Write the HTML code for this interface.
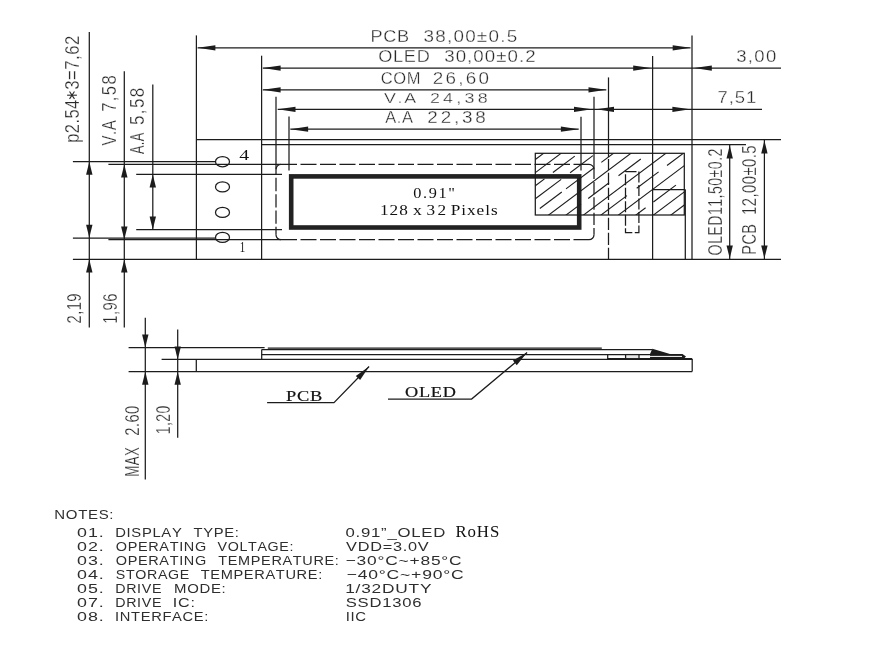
<!DOCTYPE html>
<html><head><meta charset="utf-8"><title>0.91 OLED drawing</title>
<style>html,body{margin:0;padding:0;background:#fff;width:872px;height:650px;overflow:hidden}svg{display:block;will-change:transform}</style>
</head><body>
<svg width="872" height="650" viewBox="0 0 872 650"><line x1="89.3" y1="32" x2="89.3" y2="327.6" stroke="#1c1c1c" stroke-width="1.25" />
<line x1="124.3" y1="71.2" x2="124.3" y2="327.6" stroke="#1c1c1c" stroke-width="1.25" />
<line x1="152.8" y1="84.6" x2="152.8" y2="229.7" stroke="#1c1c1c" stroke-width="1.25" />
<line x1="196.4" y1="35.4" x2="196.4" y2="259.4" stroke="#1c1c1c" stroke-width="1.25" />
<line x1="261.6" y1="55.7" x2="261.6" y2="259.4" stroke="#1c1c1c" stroke-width="1.25" />
<line x1="276.0" y1="96.8" x2="276.0" y2="169.4" stroke="#1c1c1c" stroke-width="1.25" />
<line x1="289.0" y1="116.6" x2="289.0" y2="170.5" stroke="#1c1c1c" stroke-width="1.25" />
<line x1="581.0" y1="116.8" x2="581.0" y2="170.5" stroke="#1c1c1c" stroke-width="1.25" />
<line x1="594.0" y1="96.8" x2="594.0" y2="169.4" stroke="#1c1c1c" stroke-width="1.25" />
<line x1="608.5" y1="77.4" x2="608.5" y2="157.0" stroke="#1c1c1c" stroke-width="1.25" />
<line x1="608.5" y1="159.0" x2="608.5" y2="259.4" stroke="#1c1c1c" stroke-width="1.25" stroke-dasharray="12.3 2.7" stroke-dashoffset="1.3"/>
<line x1="652.6" y1="56.0" x2="652.6" y2="259.4" stroke="#1c1c1c" stroke-width="1.25" />
<line x1="692.0" y1="35.5" x2="692.0" y2="259.4" stroke="#1c1c1c" stroke-width="1.25" />
<line x1="197.6" y1="47.8" x2="690.5" y2="47.8" stroke="#1c1c1c" stroke-width="1.25" />
<line x1="262.8" y1="68.1" x2="781.0" y2="68.1" stroke="#1c1c1c" stroke-width="1.25" />
<line x1="262.8" y1="89.8" x2="606.3" y2="89.8" stroke="#1c1c1c" stroke-width="1.25" />
<line x1="277.7" y1="109.3" x2="762.0" y2="109.3" stroke="#1c1c1c" stroke-width="1.25" />
<line x1="290.3" y1="129.2" x2="578.7" y2="129.2" stroke="#1c1c1c" stroke-width="1.25" />
<polygon points="197.60,47.80 215.40,45.20 215.40,50.40" fill="#1c1c1c"/>
<polygon points="690.50,47.80 672.70,45.20 672.70,50.40" fill="#1c1c1c"/>
<polygon points="262.80,68.10 280.60,65.50 280.60,70.70" fill="#1c1c1c"/>
<polygon points="651.00,68.10 633.20,65.50 633.20,70.70" fill="#1c1c1c"/>
<polygon points="694.00,68.10 711.80,65.50 711.80,70.70" fill="#1c1c1c"/>
<polygon points="262.80,89.80 280.60,87.20 280.60,92.40" fill="#1c1c1c"/>
<polygon points="606.30,89.80 588.50,87.20 588.50,92.40" fill="#1c1c1c"/>
<polygon points="277.70,109.30 295.50,106.70 295.50,111.90" fill="#1c1c1c"/>
<polygon points="591.80,109.30 574.00,106.70 574.00,111.90" fill="#1c1c1c"/>
<polygon points="596.20,109.30 614.00,106.70 614.00,111.90" fill="#1c1c1c"/>
<polygon points="690.20,109.30 672.40,106.70 672.40,111.90" fill="#1c1c1c"/>
<polygon points="290.30,129.20 308.10,126.60 308.10,131.80" fill="#1c1c1c"/>
<polygon points="578.70,129.20 560.90,126.60 560.90,131.80" fill="#1c1c1c"/>
<line x1="196.4" y1="139.6" x2="781.0" y2="139.6" stroke="#1c1c1c" stroke-width="1.25" />
<line x1="261.6" y1="144.5" x2="746.0" y2="144.5" stroke="#1c1c1c" stroke-width="1.25" />
<line x1="72.9" y1="259.4" x2="781.0" y2="259.4" stroke="#1c1c1c" stroke-width="1.25" />
<line x1="72.9" y1="161.5" x2="215.3" y2="161.5" stroke="#1c1c1c" stroke-width="1.25" />
<line x1="108.4" y1="164.4" x2="281.0" y2="164.4" stroke="#1c1c1c" stroke-width="1.25" />
<line x1="136.2" y1="174.3" x2="282.0" y2="174.3" stroke="#1c1c1c" stroke-width="1.25" />
<line x1="136.2" y1="229.7" x2="282.0" y2="229.7" stroke="#1c1c1c" stroke-width="1.25" />
<line x1="72.9" y1="238.0" x2="215.3" y2="238.0" stroke="#1c1c1c" stroke-width="1.25" />
<line x1="108.4" y1="239.7" x2="281.0" y2="239.7" stroke="#1c1c1c" stroke-width="1.25" />
<polygon points="89.30,161.80 86.10,174.80 92.50,174.80" fill="#1c1c1c"/>
<polygon points="89.30,237.80 86.10,224.80 92.50,224.80" fill="#1c1c1c"/>
<polygon points="89.30,259.60 86.10,272.60 92.50,272.60" fill="#1c1c1c"/>
<polygon points="124.30,164.40 121.10,177.40 127.50,177.40" fill="#1c1c1c"/>
<polygon points="124.30,239.50 121.10,226.50 127.50,226.50" fill="#1c1c1c"/>
<polygon points="124.30,259.60 121.10,272.60 127.50,272.60" fill="#1c1c1c"/>
<polygon points="152.80,174.50 149.60,187.50 156.00,187.50" fill="#1c1c1c"/>
<polygon points="152.80,229.50 149.60,216.50 156.00,216.50" fill="#1c1c1c"/>
<line x1="729.7" y1="144.5" x2="729.7" y2="259.4" stroke="#1c1c1c" stroke-width="1.25" />
<line x1="764.4" y1="139.6" x2="764.4" y2="259.4" stroke="#1c1c1c" stroke-width="1.25" />
<polygon points="729.70,145.50 726.50,158.50 732.90,158.50" fill="#1c1c1c"/>
<polygon points="729.70,258.40 726.50,245.40 732.90,245.40" fill="#1c1c1c"/>
<polygon points="764.40,140.60 761.20,153.60 767.60,153.60" fill="#1c1c1c"/>
<polygon points="764.40,258.40 761.20,245.40 767.60,245.40" fill="#1c1c1c"/>
<ellipse cx="222.5" cy="161.7" rx="7" ry="5.1" fill="none" stroke="#1c1c1c" stroke-width="1.25"/>
<ellipse cx="222.5" cy="186.9" rx="7" ry="5.1" fill="none" stroke="#1c1c1c" stroke-width="1.25"/>
<ellipse cx="222.5" cy="212.4" rx="7" ry="5.1" fill="none" stroke="#1c1c1c" stroke-width="1.25"/>
<ellipse cx="222.5" cy="237.4" rx="7" ry="5.1" fill="none" stroke="#1c1c1c" stroke-width="1.25"/>
<line x1="281.0" y1="164.4" x2="589.0" y2="164.4" stroke="#1c1c1c" stroke-width="1.25" stroke-dasharray="16 3.5"/>
<line x1="281.0" y1="239.7" x2="589.0" y2="239.7" stroke="#1c1c1c" stroke-width="1.25" stroke-dasharray="16 3.5"/>
<line x1="276.0" y1="169.4" x2="276.0" y2="234.7" stroke="#1c1c1c" stroke-width="1.25" stroke-dasharray="13.35 3" stroke-dashoffset="7.95"/>
<line x1="594.0" y1="169.4" x2="594.0" y2="234.7" stroke="#1c1c1c" stroke-width="1.25" stroke-dasharray="12.4 3" stroke-dashoffset="2.9"/>
<path d="M276,169.4 A5,5 0 0 1 281,164.4 M589,164.4 A5,5 0 0 1 594,169.4 M594,234.7 A5,5 0 0 1 589,239.7 M281,239.7 A5,5 0 0 1 276,234.7" fill="none" stroke="#1c1c1c" stroke-width="1.25"/>
<rect x="291.2" y="176.4" width="288.0" height="51.1" fill="none" stroke="#222222" stroke-width="4.6"/>
<defs><clipPath id="hc"><rect x="535.3" y="153.3" width="149.0" height="61.7"/></clipPath></defs>
<g clip-path="url(#hc)"><line x1="520.00" y1="171.00" x2="700.00" y2="36.00" stroke="#1c1c1c" stroke-width="1.1"/><line x1="520.00" y1="184.10" x2="700.00" y2="49.10" stroke="#1c1c1c" stroke-width="1.1"/><line x1="520.00" y1="197.20" x2="544.50" y2="178.83" stroke="#1c1c1c" stroke-width="1.1"/><line x1="552.90" y1="172.53" x2="574.80" y2="156.10" stroke="#1c1c1c" stroke-width="1.1"/><line x1="520.00" y1="210.30" x2="561.20" y2="179.40" stroke="#1c1c1c" stroke-width="1.1"/><line x1="570.10" y1="172.72" x2="592.90" y2="155.62" stroke="#1c1c1c" stroke-width="1.1"/><line x1="539.80" y1="208.55" x2="561.80" y2="192.05" stroke="#1c1c1c" stroke-width="1.1"/><line x1="566.00" y1="188.90" x2="593.50" y2="168.27" stroke="#1c1c1c" stroke-width="1.1"/><line x1="601.30" y1="162.43" x2="700.00" y2="88.40" stroke="#1c1c1c" stroke-width="1.1"/><line x1="520.00" y1="236.50" x2="700.00" y2="101.50" stroke="#1c1c1c" stroke-width="1.1"/><line x1="520.00" y1="249.60" x2="581.00" y2="203.85" stroke="#1c1c1c" stroke-width="1.1"/><line x1="588.20" y1="198.45" x2="609.10" y2="182.77" stroke="#1c1c1c" stroke-width="1.1"/><line x1="618.50" y1="175.73" x2="640.80" y2="159.00" stroke="#1c1c1c" stroke-width="1.1"/><line x1="520.00" y1="262.70" x2="700.00" y2="127.70" stroke="#1c1c1c" stroke-width="1.1"/><line x1="520.00" y1="275.80" x2="626.90" y2="195.62" stroke="#1c1c1c" stroke-width="1.1"/><line x1="636.70" y1="188.27" x2="658.60" y2="171.85" stroke="#1c1c1c" stroke-width="1.1"/><line x1="667.00" y1="165.55" x2="700.00" y2="140.80" stroke="#1c1c1c" stroke-width="1.1"/><line x1="520.00" y1="288.90" x2="700.00" y2="153.90" stroke="#1c1c1c" stroke-width="1.1"/><line x1="520.00" y1="302.00" x2="645.60" y2="207.80" stroke="#1c1c1c" stroke-width="1.1"/><line x1="653.40" y1="201.95" x2="675.90" y2="185.08" stroke="#1c1c1c" stroke-width="1.1"/><line x1="520.00" y1="315.10" x2="700.00" y2="180.10" stroke="#1c1c1c" stroke-width="1.1"/><line x1="520.00" y1="328.20" x2="700.00" y2="193.20" stroke="#1c1c1c" stroke-width="1.1"/></g>
<rect x="535.3" y="153.3" width="149.0" height="61.7" fill="none" stroke="#1c1c1c" stroke-width="1.25"/>
<line x1="652.6" y1="189.6" x2="685.3" y2="189.6" stroke="#1c1c1c" stroke-width="1.25" />
<line x1="685.3" y1="189.6" x2="685.3" y2="259.4" stroke="#1c1c1c" stroke-width="1.25" />
<rect x="625.5" y="171.5" width="13.4" height="61.0" fill="none" stroke="#1c1c1c" stroke-width="1.25" stroke-dasharray="11 2.5"/>
<line x1="145.3" y1="317.8" x2="145.3" y2="479.6" stroke="#1c1c1c" stroke-width="1.25" />
<line x1="177.7" y1="329.6" x2="177.7" y2="437.7" stroke="#1c1c1c" stroke-width="1.25" />
<polygon points="145.30,347.60 142.10,334.60 148.50,334.60" fill="#1c1c1c"/>
<polygon points="145.30,371.80 142.10,384.80 148.50,384.80" fill="#1c1c1c"/>
<polygon points="177.70,359.40 174.50,346.40 180.90,346.40" fill="#1c1c1c"/>
<polygon points="177.70,371.80 174.50,384.80 180.90,384.80" fill="#1c1c1c"/>
<line x1="128.6" y1="347.6" x2="264.6" y2="347.6" stroke="#1c1c1c" stroke-width="1.25" />
<line x1="267.8" y1="348.1" x2="601.8" y2="348.1" stroke="#1c1c1c" stroke-width="1.25" />
<line x1="261.7" y1="349.7" x2="652.4" y2="349.7" stroke="#1c1c1c" stroke-width="1.25" />
<line x1="261.7" y1="354.6" x2="652.4" y2="354.6" stroke="#1c1c1c" stroke-width="1.25" />
<line x1="161.6" y1="359.3" x2="692.2" y2="359.3" stroke="#1c1c1c" stroke-width="1.25" />
<line x1="607.7" y1="359.0" x2="692.2" y2="359.0" stroke="#1c1c1c" stroke-width="1.8" />
<line x1="128.6" y1="371.6" x2="692.2" y2="371.6" stroke="#1c1c1c" stroke-width="1.25" />
<line x1="196.3" y1="359.1" x2="196.3" y2="371.6" stroke="#1c1c1c" stroke-width="1.25" />
<line x1="261.7" y1="349.4" x2="261.7" y2="359.1" stroke="#1c1c1c" stroke-width="1.25" />
<line x1="692.2" y1="359.1" x2="692.2" y2="371.6" stroke="#1c1c1c" stroke-width="1.25" />
<line x1="607.7" y1="354.6" x2="607.7" y2="359.1" stroke="#1c1c1c" stroke-width="1.25" />
<rect x="625.6" y="354.6" width="13.4" height="4.1" fill="#e8e8e8" stroke="#1c1c1c" stroke-width="1.25"/>
<polygon points="652.40,348.70 670.00,353.90 682.50,353.90 686.00,356.40 683.50,359.20 650.00,359.20 650.00,354.00" fill="#1c1c1c"/>
<line x1="649" y1="356.4" x2="682" y2="356.4" stroke="#ffffff" stroke-width="1.0" />
<polyline points="267.1,402.7 334,402.7 369.1,366.5" fill="none" stroke="#1c1c1c" stroke-width="1.25"/>
<polyline points="388,399 471.6,399 527.1,352.6" fill="none" stroke="#1c1c1c" stroke-width="1.25"/>
<polygon points="369.10,366.50 360.12,380.08 355.81,375.90" fill="#1c1c1c"/>
<polygon points="527.10,352.60 516.75,365.16 512.90,360.56" fill="#1c1c1c"/>
<text transform="translate(371.90,41.80) scale(1.1341,1)" x="-1.312" y="0" font-family="&quot;Liberation Sans&quot;, sans-serif" fill="#2a2a2a" stroke="#fff" stroke-width="0.3" style="font-size:15.988px;letter-spacing:0.600px;font-kerning:none">PCB</text>
<text transform="translate(424.20,41.80) scale(1.1800,1)" x="-0.609" y="0" font-family="&quot;Liberation Sans&quot;, sans-serif" fill="#2a2a2a" stroke="#fff" stroke-width="0.3" style="font-size:15.988px;letter-spacing:1.051px;font-kerning:none">38,00±0.5</text>
<text transform="translate(379.10,62.10) scale(1.1466,1)" x="-0.750" y="0" font-family="&quot;Liberation Sans&quot;, sans-serif" fill="#2a2a2a" stroke="#fff" stroke-width="0.3" style="font-size:15.843px;letter-spacing:0.600px;font-kerning:none">OLED</text>
<text transform="translate(444.90,62.10) scale(1.1800,1)" x="-0.603" y="0" font-family="&quot;Liberation Sans&quot;, sans-serif" fill="#2a2a2a" stroke="#fff" stroke-width="0.3" style="font-size:15.843px;letter-spacing:0.903px;font-kerning:none">30,00±0.2</text>
<text transform="translate(381.50,83.70) scale(1.0336,1)" x="-0.812" y="0" font-family="&quot;Liberation Sans&quot;, sans-serif" fill="#2a2a2a" stroke="#fff" stroke-width="0.3" style="font-size:15.988px;letter-spacing:0.600px;font-kerning:none">COM</text>
<text transform="translate(433.80,83.70) scale(1.1800,1)" x="-0.804" y="0" font-family="&quot;Liberation Sans&quot;, sans-serif" fill="#2a2a2a" stroke="#fff" stroke-width="0.3" style="font-size:15.988px;letter-spacing:1.880px;font-kerning:none">26,60</text>
<text transform="translate(384.00,102.90) scale(1.1800,1)" x="-0.066" y="0" font-family="&quot;Liberation Sans&quot;, sans-serif" fill="#2a2a2a" stroke="#fff" stroke-width="0.3" style="font-size:15.116px;letter-spacing:1.425px;font-kerning:none">V.A</text>
<text transform="translate(430.80,102.90) scale(1.1800,1)" x="-0.760" y="0" font-family="&quot;Liberation Sans&quot;, sans-serif" fill="#2a2a2a" stroke="#fff" stroke-width="0.3" style="font-size:15.116px;letter-spacing:2.783px;font-kerning:none">24,38</text>
<text transform="translate(385.20,123.00) scale(1.0294,1)" x="-0.031" y="0" font-family="&quot;Liberation Sans&quot;, sans-serif" fill="#2a2a2a" stroke="#fff" stroke-width="0.3" style="font-size:15.988px;letter-spacing:0.600px;font-kerning:none">A.A</text>
<text transform="translate(428.30,123.00) scale(1.1800,1)" x="-0.804" y="0" font-family="&quot;Liberation Sans&quot;, sans-serif" fill="#2a2a2a" stroke="#fff" stroke-width="0.3" style="font-size:15.988px;letter-spacing:2.364px;font-kerning:none">22,38</text>
<text transform="translate(736.90,62.00) scale(1.1800,1)" x="-0.598" y="0" font-family="&quot;Liberation Sans&quot;, sans-serif" fill="#2a2a2a" stroke="#fff" stroke-width="0.3" style="font-size:15.698px;letter-spacing:1.152px;font-kerning:none">3,00</text>
<text transform="translate(718.40,102.60) scale(1.1800,1)" x="-0.805" y="0" font-family="&quot;Liberation Sans&quot;, sans-serif" fill="#2a2a2a" stroke="#fff" stroke-width="0.3" style="font-size:15.698px;letter-spacing:0.763px;font-kerning:none">7,51</text>
<text transform="translate(78.90,141.80) rotate(-90) scale(0.7929,1)" x="-1.340" y="0" font-family="&quot;Liberation Sans&quot;, sans-serif" fill="#2a2a2a" stroke="#fff" stroke-width="0.3" style="font-size:20.785px;letter-spacing:0.600px;font-kerning:none">p2.54</text>
<text transform="translate(78.90,89.10) rotate(-90) scale(0.8053,1)" x="-0.792" y="0" font-family="&quot;Liberation Sans&quot;, sans-serif" fill="#2a2a2a" stroke="#fff" stroke-width="0.3" style="font-size:20.785px;letter-spacing:0.600px;font-kerning:none">3=7,62</text>
<text transform="translate(116.00,145.40) rotate(-90) scale(0.7514,1)" x="-0.088" y="0" font-family="&quot;Liberation Sans&quot;, sans-serif" fill="#2a2a2a" stroke="#fff" stroke-width="0.3" style="font-size:20.058px;letter-spacing:0.600px;font-kerning:none">V.A</text>
<text transform="translate(116.00,111.00) rotate(-90) scale(0.8300,1)" x="-1.028" y="0" font-family="&quot;Liberation Sans&quot;, sans-serif" fill="#2a2a2a" stroke="#fff" stroke-width="0.3" style="font-size:20.058px;letter-spacing:1.677px;font-kerning:none">7,58</text>
<text transform="translate(144.20,154.00) rotate(-90) scale(0.6178,1)" x="-0.040" y="0" font-family="&quot;Liberation Sans&quot;, sans-serif" fill="#2a2a2a" stroke="#fff" stroke-width="0.3" style="font-size:20.494px;letter-spacing:0.600px;font-kerning:none">A.A</text>
<text transform="translate(144.20,124.30) rotate(-90) scale(0.8300,1)" x="-0.821" y="0" font-family="&quot;Liberation Sans&quot;, sans-serif" fill="#2a2a2a" stroke="#fff" stroke-width="0.3" style="font-size:20.494px;letter-spacing:1.652px;font-kerning:none">5,58</text>
<text transform="translate(81.30,322.70) rotate(-90) scale(0.7181,1)" x="-1.031" y="0" font-family="&quot;Liberation Sans&quot;, sans-serif" fill="#2a2a2a" stroke="#fff" stroke-width="0.3" style="font-size:20.494px;letter-spacing:0.600px;font-kerning:none">2,19</text>
<text transform="translate(116.60,322.70) rotate(-90) scale(0.7074,1)" x="-1.605" y="0" font-family="&quot;Liberation Sans&quot;, sans-serif" fill="#2a2a2a" stroke="#fff" stroke-width="0.3" style="font-size:21.076px;letter-spacing:0.600px;font-kerning:none">1,96</text>
<text transform="translate(139.30,475.70) rotate(-90) scale(0.6643,1)" x="-1.645" y="0" font-family="&quot;Liberation Sans&quot;, sans-serif" fill="#2a2a2a" stroke="#fff" stroke-width="0.3" style="font-size:20.058px;letter-spacing:0.600px;font-kerning:none">MAX</text>
<text transform="translate(139.30,435.10) rotate(-90) scale(0.7401,1)" x="-1.009" y="0" font-family="&quot;Liberation Sans&quot;, sans-serif" fill="#2a2a2a" stroke="#fff" stroke-width="0.3" style="font-size:20.058px;letter-spacing:0.600px;font-kerning:none">2.60</text>
<text transform="translate(169.80,433.20) rotate(-90) scale(0.6912,1)" x="-1.550" y="0" font-family="&quot;Liberation Sans&quot;, sans-serif" fill="#2a2a2a" stroke="#fff" stroke-width="0.3" style="font-size:20.349px;letter-spacing:0.600px;font-kerning:none">1,20</text>
<text transform="translate(721.70,254.90) rotate(-90) scale(0.7048,1)" x="-0.957" y="0" font-family="&quot;Liberation Sans&quot;, sans-serif" fill="#2a2a2a" stroke="#fff" stroke-width="0.3" style="font-size:20.203px;letter-spacing:0.600px;font-kerning:none">OLED11,50±0.2</text>
<text transform="translate(756.30,253.50) rotate(-90) scale(0.6953,1)" x="-1.705" y="0" font-family="&quot;Liberation Sans&quot;, sans-serif" fill="#2a2a2a" stroke="#fff" stroke-width="0.3" style="font-size:20.785px;letter-spacing:0.600px;font-kerning:none">PCB</text>
<text transform="translate(756.30,213.80) rotate(-90) scale(0.7163,1)" x="-1.583" y="0" font-family="&quot;Liberation Sans&quot;, sans-serif" fill="#2a2a2a" stroke="#fff" stroke-width="0.3" style="font-size:20.785px;letter-spacing:0.600px;font-kerning:none">12,00±0.5</text>
<line x1="67.1" y1="95.2" x2="76.9" y2="95.2" stroke="#2a2a2a" stroke-width="1.1" />
<line x1="69.55" y1="91.56" x2="74.45" y2="98.84" stroke="#2a2a2a" stroke-width="1.1" />
<line x1="74.45" y1="91.56" x2="69.55" y2="98.84" stroke="#2a2a2a" stroke-width="1.1" />
<text transform="translate(239.60,160.00) scale(1.3710,1)" x="-0.282" y="0" font-family="&quot;Liberation Serif&quot;, serif" fill="#111111" style="font-size:14.436px;letter-spacing:0.000px;font-kerning:none">4</text>
<text transform="translate(240.60,252.00) scale(0.7178,1)" x="-1.322" y="0" font-family="&quot;Liberation Serif&quot;, serif" fill="#111111" style="font-size:15.038px;letter-spacing:0.000px;font-kerning:none">1</text>
<text transform="translate(413.90,197.70) scale(1.1500,1)" x="-0.538" y="0" font-family="&quot;Liberation Serif&quot;, serif" fill="#111111" style="font-size:14.135px;letter-spacing:1.444px;font-kerning:none">0.91"</text>
<text transform="translate(381.40,214.80) scale(1.1500,1)" x="-1.315" y="0" font-family="&quot;Liberation Serif&quot;, serif" fill="#111111" style="font-size:14.962px;letter-spacing:0.895px;font-kerning:none">128</text>
<text transform="translate(413.10,214.80) scale(1.1862,1)" x="-0.131" y="0" font-family="&quot;Liberation Serif&quot;, serif" fill="#111111" style="font-size:14.960px;letter-spacing:0.000px;font-kerning:none">x</text>
<text transform="translate(427.30,214.80) scale(1.1500,1)" x="-0.716" y="0" font-family="&quot;Liberation Serif&quot;, serif" fill="#111111" style="font-size:14.962px;letter-spacing:2.145px;font-kerning:none">32</text>
<text transform="translate(451.20,214.80) scale(1.1500,1)" x="-0.431" y="0" font-family="&quot;Liberation Serif&quot;, serif" fill="#111111" style="font-size:14.962px;letter-spacing:0.861px;font-kerning:none">Pixels</text>
<text stroke="#111111" stroke-width="0.2" transform="translate(286.50,400.60) scale(1.2534,1)" x="-0.422" y="0" font-family="&quot;Liberation Serif&quot;, serif" fill="#111111" style="font-size:14.656px;letter-spacing:0.600px;font-kerning:none">PCB</text>
<text stroke="#111111" stroke-width="0.2" transform="translate(405.70,396.80) scale(1.2598,1)" x="-0.595" y="0" font-family="&quot;Liberation Serif&quot;, serif" fill="#111111" style="font-size:14.504px;letter-spacing:0.600px;font-kerning:none">OLED</text>
<text transform="translate(55.50,519.30) scale(1.1471,1)" x="-1.073" y="0" font-family="&quot;Liberation Sans&quot;, sans-serif" fill="#2e2e2e" style="font-size:13.081px;letter-spacing:0.600px;font-kerning:none">NOTES:</text>
<text transform="translate(77.80,536.50) scale(1.3500,1)" x="-0.517" y="0" font-family="&quot;Liberation Sans&quot;, sans-serif" fill="#2e2e2e" style="font-size:13.227px;letter-spacing:0.632px;font-kerning:none">01.</text>
<text transform="translate(77.80,550.60) scale(1.3500,1)" x="-0.517" y="0" font-family="&quot;Liberation Sans&quot;, sans-serif" fill="#2e2e2e" style="font-size:13.227px;letter-spacing:0.632px;font-kerning:none">02.</text>
<text transform="translate(77.80,564.70) scale(1.3500,1)" x="-0.517" y="0" font-family="&quot;Liberation Sans&quot;, sans-serif" fill="#2e2e2e" style="font-size:13.227px;letter-spacing:0.632px;font-kerning:none">03.</text>
<text transform="translate(77.80,578.50) scale(1.3500,1)" x="-0.517" y="0" font-family="&quot;Liberation Sans&quot;, sans-serif" fill="#2e2e2e" style="font-size:13.227px;letter-spacing:0.632px;font-kerning:none">04.</text>
<text transform="translate(77.80,592.60) scale(1.3500,1)" x="-0.517" y="0" font-family="&quot;Liberation Sans&quot;, sans-serif" fill="#2e2e2e" style="font-size:13.227px;letter-spacing:0.632px;font-kerning:none">05.</text>
<text transform="translate(77.80,606.80) scale(1.3500,1)" x="-0.517" y="0" font-family="&quot;Liberation Sans&quot;, sans-serif" fill="#2e2e2e" style="font-size:13.227px;letter-spacing:0.632px;font-kerning:none">07.</text>
<text transform="translate(77.80,620.70) scale(1.3500,1)" x="-0.517" y="0" font-family="&quot;Liberation Sans&quot;, sans-serif" fill="#2e2e2e" style="font-size:13.227px;letter-spacing:0.632px;font-kerning:none">08.</text>
<text transform="translate(116.40,536.50) scale(1.1206,1)" x="-1.085" y="0" font-family="&quot;Liberation Sans&quot;, sans-serif" fill="#2e2e2e" style="font-size:13.227px;letter-spacing:0.600px;font-kerning:none">DISPLAY</text>
<text transform="translate(193.90,536.50) scale(1.1172,1)" x="-0.297" y="0" font-family="&quot;Liberation Sans&quot;, sans-serif" fill="#2e2e2e" style="font-size:13.227px;letter-spacing:0.600px;font-kerning:none">TYPE:</text>
<text transform="translate(116.40,550.60) scale(1.0951,1)" x="-0.626" y="0" font-family="&quot;Liberation Sans&quot;, sans-serif" fill="#2e2e2e" style="font-size:13.227px;letter-spacing:0.600px;font-kerning:none">OPERATING</text>
<text transform="translate(217.60,550.60) scale(1.0783,1)" x="-0.058" y="0" font-family="&quot;Liberation Sans&quot;, sans-serif" fill="#2e2e2e" style="font-size:13.227px;letter-spacing:0.600px;font-kerning:none">VOLTAGE:</text>
<text transform="translate(116.40,564.70) scale(1.0951,1)" x="-0.626" y="0" font-family="&quot;Liberation Sans&quot;, sans-serif" fill="#2e2e2e" style="font-size:13.227px;letter-spacing:0.600px;font-kerning:none">OPERATING</text>
<text transform="translate(218.60,564.70) scale(1.0937,1)" x="-0.297" y="0" font-family="&quot;Liberation Sans&quot;, sans-serif" fill="#2e2e2e" style="font-size:13.227px;letter-spacing:0.600px;font-kerning:none">TEMPERATURE:</text>
<text transform="translate(116.40,578.50) scale(1.0774,1)" x="-0.601" y="0" font-family="&quot;Liberation Sans&quot;, sans-serif" fill="#2e2e2e" style="font-size:13.227px;letter-spacing:0.600px;font-kerning:none">STORAGE</text>
<text transform="translate(201.00,578.50) scale(1.1038,1)" x="-0.297" y="0" font-family="&quot;Liberation Sans&quot;, sans-serif" fill="#2e2e2e" style="font-size:13.227px;letter-spacing:0.600px;font-kerning:none">TEMPERATURE:</text>
<text transform="translate(116.40,592.60) scale(1.0785,1)" x="-1.085" y="0" font-family="&quot;Liberation Sans&quot;, sans-serif" fill="#2e2e2e" style="font-size:13.227px;letter-spacing:0.600px;font-kerning:none">DRIVE</text>
<text transform="translate(175.30,592.60) scale(1.1297,1)" x="-1.085" y="0" font-family="&quot;Liberation Sans&quot;, sans-serif" fill="#2e2e2e" style="font-size:13.227px;letter-spacing:0.600px;font-kerning:none">MODE:</text>
<text transform="translate(116.40,606.80) scale(1.0785,1)" x="-1.085" y="0" font-family="&quot;Liberation Sans&quot;, sans-serif" fill="#2e2e2e" style="font-size:13.227px;letter-spacing:0.600px;font-kerning:none">DRIVE</text>
<text transform="translate(174.30,606.80) scale(1.2186,1)" x="-1.221" y="0" font-family="&quot;Liberation Sans&quot;, sans-serif" fill="#2e2e2e" style="font-size:13.227px;letter-spacing:0.600px;font-kerning:none">IC:</text>
<text transform="translate(116.40,620.70) scale(1.1103,1)" x="-1.221" y="0" font-family="&quot;Liberation Sans&quot;, sans-serif" fill="#2e2e2e" style="font-size:13.227px;letter-spacing:0.600px;font-kerning:none">INTERFACE:</text>
<text transform="translate(346.10,536.50) scale(1.2665,1)" x="-0.517" y="0" font-family="&quot;Liberation Sans&quot;, sans-serif" fill="#2e2e2e" style="font-size:13.227px;letter-spacing:0.600px;font-kerning:none">0.91”_OLED</text>
<text transform="translate(455.90,536.70) scale(1.0000,1)" x="-0.484" y="0" font-family="&quot;Liberation Serif&quot;, serif" fill="#111111" style="font-size:16.794px;letter-spacing:0.920px;font-kerning:none">RoHS</text>
<text transform="translate(346.10,550.60) scale(1.2339,1)" x="-0.058" y="0" font-family="&quot;Liberation Sans&quot;, sans-serif" fill="#2e2e2e" style="font-size:13.227px;letter-spacing:0.600px;font-kerning:none">VDD=3.0V</text>
<text transform="translate(346.50,564.70) scale(1.3154,1)" x="-0.652" y="0" font-family="&quot;Liberation Sans&quot;, sans-serif" fill="#2e2e2e" style="font-size:13.227px;letter-spacing:0.600px;font-kerning:none">−30°C~+85°C</text>
<text transform="translate(347.50,578.50) scale(1.3280,1)" x="-0.652" y="0" font-family="&quot;Liberation Sans&quot;, sans-serif" fill="#2e2e2e" style="font-size:13.227px;letter-spacing:0.600px;font-kerning:none">−40°C~+90°C</text>
<text transform="translate(346.50,592.60) scale(1.3101,1)" x="-1.008" y="0" font-family="&quot;Liberation Sans&quot;, sans-serif" fill="#2e2e2e" style="font-size:13.227px;letter-spacing:0.600px;font-kerning:none">1/32DUTY</text>
<text transform="translate(346.50,606.80) scale(1.2585,1)" x="-0.601" y="0" font-family="&quot;Liberation Sans&quot;, sans-serif" fill="#2e2e2e" style="font-size:13.227px;letter-spacing:0.600px;font-kerning:none">SSD1306</text>
<text transform="translate(347.00,620.70) scale(1.1296,1)" x="-1.221" y="0" font-family="&quot;Liberation Sans&quot;, sans-serif" fill="#2e2e2e" style="font-size:13.227px;letter-spacing:0.600px;font-kerning:none">IIC</text></svg>
</body></html>
